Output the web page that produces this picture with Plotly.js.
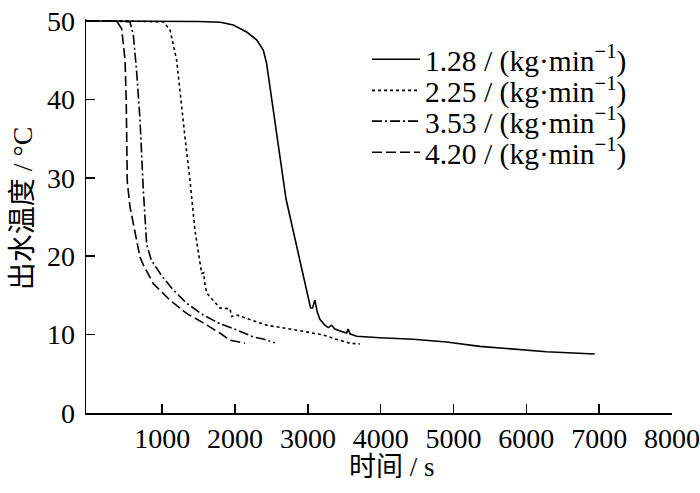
<!DOCTYPE html>
<html>
<head>
<meta charset="utf-8">
<script src="https://cdn.plot.ly/plotly-3.0.1.min.js"></script>
<style>
  html, body { margin: 0; padding: 0; background: #fff; }
  #chart { width: 700px; height: 493px; }
</style>
</head>
<body>
<div id="chart"></div>
<script>
// outlet water temperature vs time, four flow rates
const seriesNames = ['1.28 / (kg·min<sup>−1</sup>)', '2.25 / (kg·min<sup>−1</sup>)',
  '3.53 / (kg·min<sup>−1</sup>)', '4.20 / (kg·min<sup>−1</sup>)'];

const t128 = [0, 500, 1000, 1500, 1800, 1975, 2159, 2296, 2387, 2433, 2700, 2914, 2982, 3037, 3064, 3096, 3128,
  3165, 3233, 3279, 3326, 3371, 3463, 3531, 3553, 3577, 3669, 3759, 3988, 4446, 4904, 5361, 5818, 6276, 6939];
const T128 = [50, 50, 50, 49.95, 49.85, 49.5, 48.6, 47.6, 46.3, 44.6, 27.3, 18.2, 15.7, 13.4, 13.4, 14.4, 12.9,
  11.95, 11.2, 10.9, 11.2, 10.7, 10.4, 10.2, 10.7, 10.1, 9.8, 9.73, 9.6, 9.4, 9.05, 8.5, 8.12, 7.82, 7.53];

const t225 = [0, 500, 1014, 1106, 1198, 1267, 1312, 1381, 1449, 1518, 1541, 1570, 1580, 1610, 1793, 1930, 1953,
  2022, 2433, 2891, 3210, 3394, 3577, 3714];
const T225 = [50, 50, 49.9, 48.9, 45.0, 38.6, 35.2, 29.7, 23.3, 19.2, 17.8, 17.9, 16.8, 15.3, 13.4, 13.3, 12.3,
  12.5, 11.2, 10.5, 9.95, 9.4, 8.9, 8.8];

const t353 = [0, 300, 557, 603, 649, 694, 740, 786, 850, 1000, 1151, 1335, 1563, 1791, 2022, 2249, 2400, 2547];
const T353 = [50, 50, 49.9, 48.2, 43.5, 37.5, 28.5, 21.5, 19.5, 17.4, 15.7, 14.0, 12.5, 11.4, 10.6, 9.7, 9.4, 8.95];

const t420 = [0, 200, 375, 443, 489, 505, 520, 557, 626, 694, 740, 877, 1106, 1335, 1563, 1791, 1928, 2136];
const T420 = [50, 50, 50, 49.0, 45.0, 40.0, 29.5, 26.3, 23.3, 19.9, 18.9, 16.5, 14.4, 12.7, 11.5, 10.2, 9.3, 8.9];

const xTicks = [1000, 2000, 3000, 4000, 5000, 6000, 7000, 8000];
const yTicks = [0, 10, 20, 30, 40, 50];

const serif = 'Liberation Serif, Times New Roman, Noto Sans CJK SC, serif';

function line(x, y, name, dash, legendId) {
  return {
    x: x, y: y, name: name, mode: 'lines', legend: legendId,
    line: { color: '#000', width: 1.6, dash: dash }
  };
}

let data = [
  line(t128, T128, seriesNames[0], 'solid', 'legend'),
  line(t225, T225, seriesNames[1], '3px,3px', 'legend2'),
  line(t353, T353, seriesNames[2], '10px,3px,2px,3px', 'legend3'),
  line(t420, T420, seriesNames[3], '10px,4px', 'legend4')
];

// one legend per row so the rows can sit as tight as in the original
function legendRow(y) {
  return {
    x: 0.4795, y: y, xanchor: 'left', yanchor: 'middle',
    bgcolor: 'rgba(0,0,0,0)', borderwidth: 0,
    font: { family: serif, size: 29.5, color: '#000' },
    itemwidth: 48
  };
}

let layout = {
  width: 700,
  height: 493,
  margin: { l: 86, r: 28, t: 19, b: 80 },
  paper_bgcolor: '#fff',
  plot_bgcolor: '#fff',
  font: { family: serif, color: '#000', size: 28 },
  showlegend: true,
  legend: legendRow(0.897),
  legend2: legendRow(0.818),
  legend3: legendRow(0.740),
  legend4: legendRow(0.661),
  xaxis: {
    range: [-47, 8000],
    tickvals: xTicks,
    ticks: 'inside', ticklen: 9, tickwidth: 1.5, tickcolor: '#000',
    showline: true, linecolor: '#000', linewidth: 1.5,
    showgrid: false, zeroline: false,
    tickfont: { size: 28 }
  },
  yaxis: {
    range: [0, 50.26],
    tickvals: yTicks,
    ticks: 'inside', ticklen: 9, tickwidth: 1.5, tickcolor: '#000',
    showline: true, linecolor: '#000', linewidth: 1.5,
    showgrid: false, zeroline: false,
    ticklabelstandoff: 4,
    tickfont: { size: 28 }
  },
  annotations: [{
    text: '时间 / s', xref: 'paper', yref: 'paper', x: 0.522, y: -0.137,
    xanchor: 'center', yanchor: 'middle', showarrow: false,
    font: { family: serif, size: 27, color: '#000' }
  }, {
    text: '出水温度 / °C', xref: 'paper', yref: 'paper', x: -0.109, y: 0.52,
    xanchor: 'center', yanchor: 'middle', showarrow: false, textangle: -90,
    font: { family: serif, size: 28, color: '#000' }
  }]
};

Plotly.newPlot('chart', data, layout, { displayModeBar: false, staticPlot: true });
</script>
</body>
</html>
